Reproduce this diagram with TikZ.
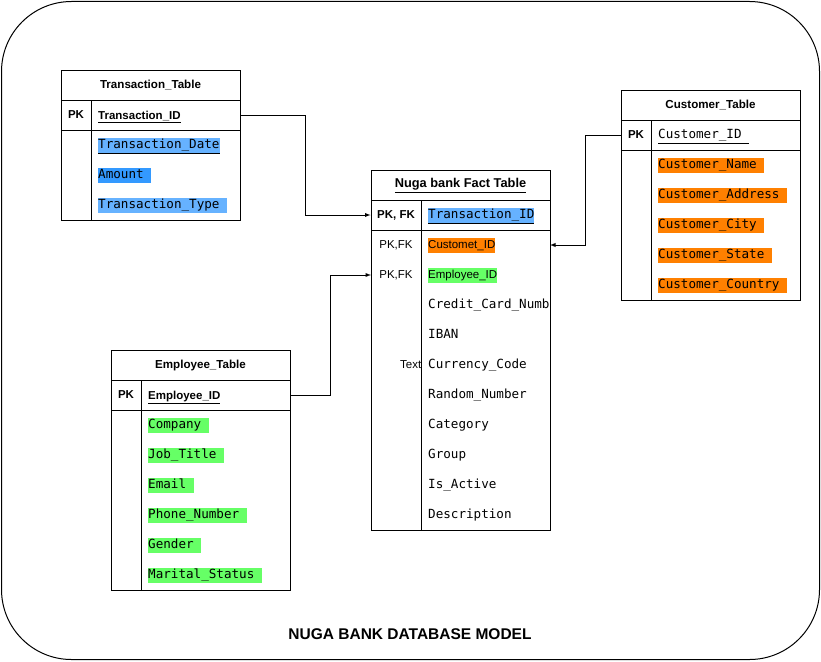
\documentclass[tikz,border=0pt]{standalone}
\usepackage{fontspec}
\setmainfont{Liberation Sans}
\newfontfamily\codefont{DejaVu Sans Mono}
\definecolor{trblue}{HTML}{66B2FF}
\definecolor{trdark}{HTML}{3399FF}
\definecolor{cuorange}{HTML}{FF8000}
\definecolor{emgreen}{HTML}{66FF66}
\newcommand{\trail}{\phantom{x}}

\tikzset{
  tabhead/.style={draw, line width=1pt, minimum width=179pt, minimum height=30pt, inner sep=0pt, font=\bfseries\fontsize{11.6}{13}\selectfont},
  tabrow/.style={draw, line width=1pt, minimum width=179pt, minimum height=30pt, inner sep=0pt},
  keylab/.style={inner sep=0pt, font=\bfseries\fontsize{11.5}{13}\selectfont},
  field/.style={anchor=west, inner xsep=0pt, inner ysep=1pt, text height=10pt, text depth=3.5pt, font=\codefont\fontsize{12.6}{14}\selectfont},
  sfield/.style={field, font=\fontsize{11.5}{14}\selectfont},
  link/.style={-latex, line width=0.9pt},
}

\begin{document}
\begin{tikzpicture}[x=1pt, y=-1pt]
    \useasboundingbox (0,0) rectangle (821,661);
    % --- Rahmen ---
    \draw[line width=1pt, rounded corners=70pt] (1.5,1.5) rectangle (819.5,659.5);

    % --- Transaction_Table ---
    \node[tabhead] (trhead) at (150.5,85) {Transaction\_Table};
    \node[tabrow] (trpk) at (150.5,115) {};
    \draw[line width=1pt] (61,130) rectangle (240,220);
    \draw[line width=1pt] (91,100) -- (91,220);
    \node[keylab] (trkey) at (76,115) {PK};
    \node[sfield, font=\bfseries\fontsize{11.5}{14}\selectfont] (trid) at (98,116) {\underline{Transaction\_ID}};
    \node[field, fill=trblue] (trdate) at (98,145.5) {\underline{Transaction\_Date}};
    \node[field, fill=trdark] (tramount) at (98,175.5) {Amount\trail};
    \node[field, fill=trblue] (trtype) at (98,205.5) {Transaction\_Type\trail};

    % --- Fact Table ---
    \node[tabhead, font=\bfseries\fontsize{12.8}{14}\selectfont] (fahead) at (460.5,185.5) {\underline{Nuga bank Fact Table}};
    \node[tabrow] (fapk) at (460.5,215) {};
    \draw[line width=1pt] (371,230) rectangle (550,530);
    \draw[line width=1pt] (421,200) -- (421,530);
    \node[keylab] (fakey) at (396,215) {PK, FK};
    \node[field, fill=trblue] (fatid) at (428,215.5) {\underline{Transaction\_ID}};
    \node[inner sep=0pt, font=\fontsize{11.5}{13}\selectfont] (fakey2) at (396,245) {PK,FK};
    \node[inner sep=0pt, font=\fontsize{11.5}{13}\selectfont] (fakey3) at (396,275) {PK,FK};
    \node[sfield, fill=cuorange] (facust) at (428,245.5) {Customet\_ID};
    \node[sfield, fill=emgreen] (faemp) at (428,275.5) {Employee\_ID};
    \foreach \f [count=\i] in {Credit\_Card\_Numb, IBAN, Currency\_Code, Random\_Number,
        Category, Group, Is\_Active, Description}
        \node[field] (fa\i) at (428,275.5+30*\i) {\f};
    \node[anchor=east, inner sep=0pt, font=\fontsize{11.5}{13}\selectfont] (fatext) at (421.5,365) {Text};
    \coordinate (facustin) at (550,245);
    \coordinate (faempin) at (371,275);

    % --- Customer_Table ---
    \node[tabhead] (cuhead) at (710.5,105) {Customer\_Table};
    \node[tabrow] (cupk) at (710.5,135) {};
    \draw[line width=1pt] (621,150) rectangle (800,300);
    \draw[line width=1pt] (651,120) -- (651,300);
    \node[keylab] (cukey) at (636,135) {PK};
    \node[field] (cuid) at (658,135.5) {\underline{Customer\_ID\trail}};
    \foreach \f [count=\i] in {Customer\_Name\trail, Customer\_Address\trail, Customer\_City\trail,
        Customer\_State\trail, Customer\_Country\trail}
        \node[field, fill=cuorange] (cu\i) at (658,135.5+30*\i) {\f};

    % --- Employee_Table ---
    \node[tabhead] (emhead) at (200.5,365) {Employee\_Table};
    \node[tabrow] (empk) at (200.5,395) {};
    \draw[line width=1pt] (111,410) rectangle (290,590);
    \draw[line width=1pt] (141,380) -- (141,590);
    \node[keylab] (emkey) at (126,395) {PK};
    \node[sfield, font=\bfseries\fontsize{11.5}{14}\selectfont] (emid) at (148,396) {\underline{Employee\_ID}};
    \foreach \f [count=\i] in {Company\trail, Job\_Title\trail, Email\trail, Phone\_Number\trail,
        Gender\trail, Marital\_Status\trail}
        \node[field, fill=emgreen] (em\i) at (148,395.5+30*\i) {\f};

    % --- Beziehungen ---
    \draw[link] (trpk.east) -- ++(65,0) |- (fapk.west);
    \draw[link] (cupk.west) -- ++(-35,0) |- (facustin);
    \draw[link] (empk.east) -- ++(40,0) |- (faempin);

    % --- Titel ---
    \node[font=\bfseries\fontsize{15.5}{18}\selectfont] (title) at (410,634) {NUGA BANK DATABASE MODEL};
\end{tikzpicture}
\end{document}
